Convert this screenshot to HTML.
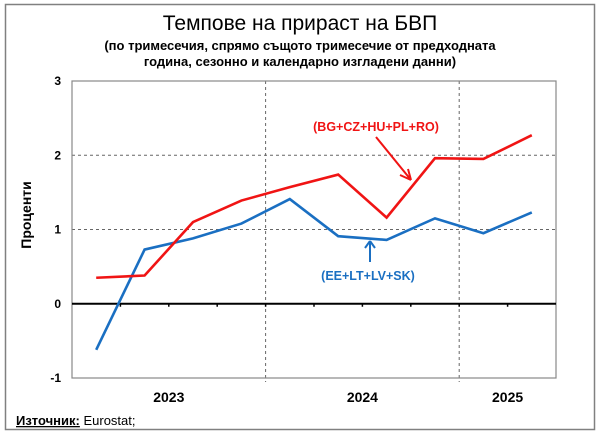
<!DOCTYPE html>
<html><head><meta charset="utf-8"><style>
body{margin:0;background:#fff;}
svg{display:block;font-family:"Liberation Sans",Arial,sans-serif;}
</style></head><body>
<svg width="600" height="436" viewBox="0 0 600 436">
<rect x="5.5" y="4.5" width="589" height="425" fill="#fff" stroke="#808080" stroke-width="1.5"/>
<text x="300" y="30" text-anchor="middle" font-size="21" fill="#000">Темпове на прираст на БВП</text>
<text x="300" y="50" text-anchor="middle" font-size="13" font-weight="bold">(по тримесечия, спрямо същото тримесечие от предходната</text>
<text x="300" y="66" text-anchor="middle" font-size="13" font-weight="bold">година, сезонно и календарно изгладени данни)</text>
<text transform="translate(31,215) rotate(-90)" text-anchor="middle" font-size="14" font-weight="bold">Проценти</text>
<g id="plot"></g>
<text x="16" y="425" font-size="13"><tspan font-weight="bold" text-decoration="underline">Източник:</tspan> Eurostat;</text>
</svg>
<script>
const categories=["2023Q1","2023Q2","2023Q3","2023Q4","2024Q1","2024Q2","2024Q3","2024Q4","2025Q1","2025Q2"];
const redValues=[0.35,0.38,1.10,1.39,1.57,1.74,1.16,1.96,1.95,2.27];
const blueValues=[-0.62,0.73,0.88,1.08,1.41,0.91,0.86,1.15,0.95,1.23];
const yTicks=[-1,0,1,2,3];
const yearLabels=["2023","2024","2025"];
const yearSpans=[[0,4],[4,8],[8,10]];

const NS="http://www.w3.org/2000/svg";
const g=document.getElementById('plot');
const L=72,R=556,T=81,B=378,yMin=-1,yMax=3;
const slot=(R-L)/categories.length;
const xs=i=>L+slot*(i+0.5);
const xb=i=>L+slot*i;
const ys=v=>B-(v-yMin)/(yMax-yMin)*(B-T);
function mk(tag,attrs){const e=document.createElementNS(NS,tag);for(const k in attrs)e.setAttribute(k,attrs[k]);g.appendChild(e);return e;}

yTicks.forEach(v=>{
  if(v!==0&&v!==yMin&&v!==yMax){
    const l=mk('line',{x1:L,x2:R,y1:ys(v),y2:ys(v),stroke:'#666','stroke-dasharray':'3,3','stroke-width':1});
    
    
  }
  const t=mk('text',{x:L-11,y:ys(v)+4,'text-anchor':'end','font-size':12,'font-weight':'bold'});
  t.textContent=v;
  
  
});
yearSpans.forEach((s,i)=>{
  if(s[0]>0){
    const l=mk('line',{x1:xb(s[0]),x2:xb(s[0]),y1:T,y2:B+4,stroke:'#666','stroke-dasharray':'3,3','stroke-width':1});
    
    
  }
  const t=mk('text',{x:(xb(s[0])+xb(s[1]))/2,y:402,'text-anchor':'middle','font-size':14,'font-weight':'bold'});
  t.textContent=yearLabels[i];
  
  
});
const frame=mk('rect',{x:L,y:T,width:R-L,height:B-T,fill:'none',stroke:'#888','stroke-width':1.2});


const zero=mk('line',{x1:L,x2:R,y1:ys(0),y2:ys(0),stroke:'#000','stroke-width':2});


for(let i=1;i<categories.length;i++){
  const tk=mk('line',{x1:xb(i),x2:xb(i),y1:ys(0),y2:ys(0)+3,stroke:'#000','stroke-width':1.5});
  
  
}
function series(vals,color,name){
  const p=mk('polyline',{points:vals.map((v,i)=>xs(i)+','+ys(v)).join(' '),fill:'none',stroke:color,'stroke-width':2.6,'stroke-linejoin':'miter'});
  
  
}
series(blueValues,'#1a6fc2','series-ee-lt-lv-sk');
series(redValues,'#f01414','series-bg-cz-hu-pl-ro');

const rl=mk('text',{x:376,y:131,'text-anchor':'middle','font-size':12.5,'font-weight':'bold',fill:'#f01414'});
rl.textContent='(BG+CZ+HU+PL+RO)';


const ra=mk('path',{d:'M376 137 L411 180 M411 180 L400 175 M411 180 L408 169',fill:'none',stroke:'#f01414','stroke-width':2});


const bl=mk('text',{x:368,y:280,'text-anchor':'middle','font-size':12.5,'font-weight':'bold',fill:'#1a6fc2'});
bl.textContent='(EE+LT+LV+SK)';


const ba=mk('path',{d:'M370 262 L370 241 M370 241 L365 248 M370 241 L375 248',fill:'none',stroke:'#1a6fc2','stroke-width':2});


</script>
</body></html>
